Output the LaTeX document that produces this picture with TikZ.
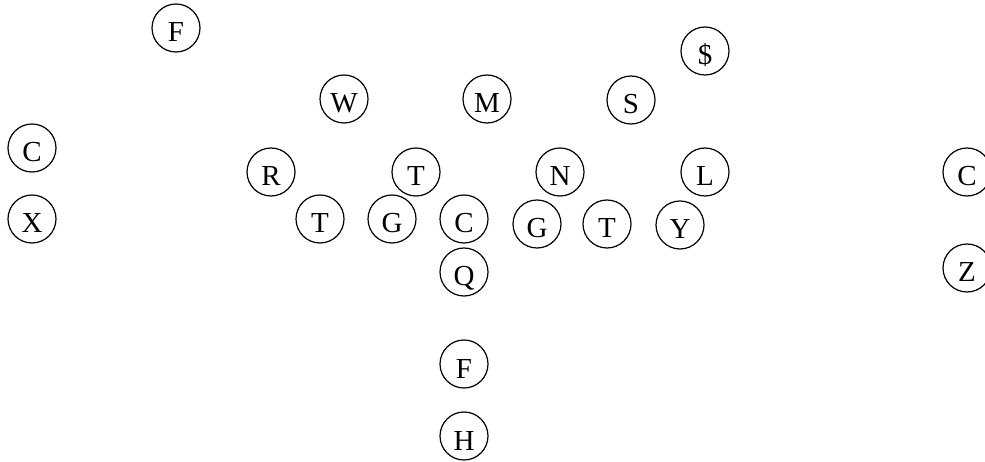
\documentclass[tikz,border=0pt]{standalone}
\usepackage{fontspec}
\setmainfont{Liberation Serif}

\begin{document}
\begin{tikzpicture}[
    x=1pt, y=-1pt,
    player/.style={circle, draw, line width=1.2pt, minimum size=48pt, inner sep=0pt,
        text height=28pt, text depth=0pt, font=\fontsize{29}{30}\selectfont}
]
\useasboundingbox (0,0) rectangle (985,462);

% Defense
\node[player] (fs) at (176,28) {F};
\node[player] (star) at (705,51) {\$};
\node[player] (will) at (344,99) {W};
\node[player] (mike) at (487,99) {M};
\node[player] (sam) at (631,100) {S};
\node[player] (lcb) at (32,148) {C};
\node[player] (rush) at (271,172) {R};
\node[player] (tech) at (416,172) {T};
\node[player] (nose) at (560,172) {N};
\node[player] (leo) at (705,172) {L};
\node[player] (rcb) at (967,172) {C};

% Offense
\node[player] (xrec) at (32,219) {X};
\node[player] (ltk) at (320,219) {T};
\node[player] (lgd) at (392,219) {G};
\node[player] (ctr) at (464,219) {C};
\node[player] (rgd) at (537,224) {G};
\node[player] (rtk) at (607,224) {T};
\node[player] (yrec) at (680,225) {Y};
\node[player] (zrec) at (967,268) {Z};
\node[player] (qb) at (464,272) {Q};
\node[player] (fb) at (464,364) {F};
\node[player] (hb) at (464,436) {H};

\end{tikzpicture}
\end{document}
